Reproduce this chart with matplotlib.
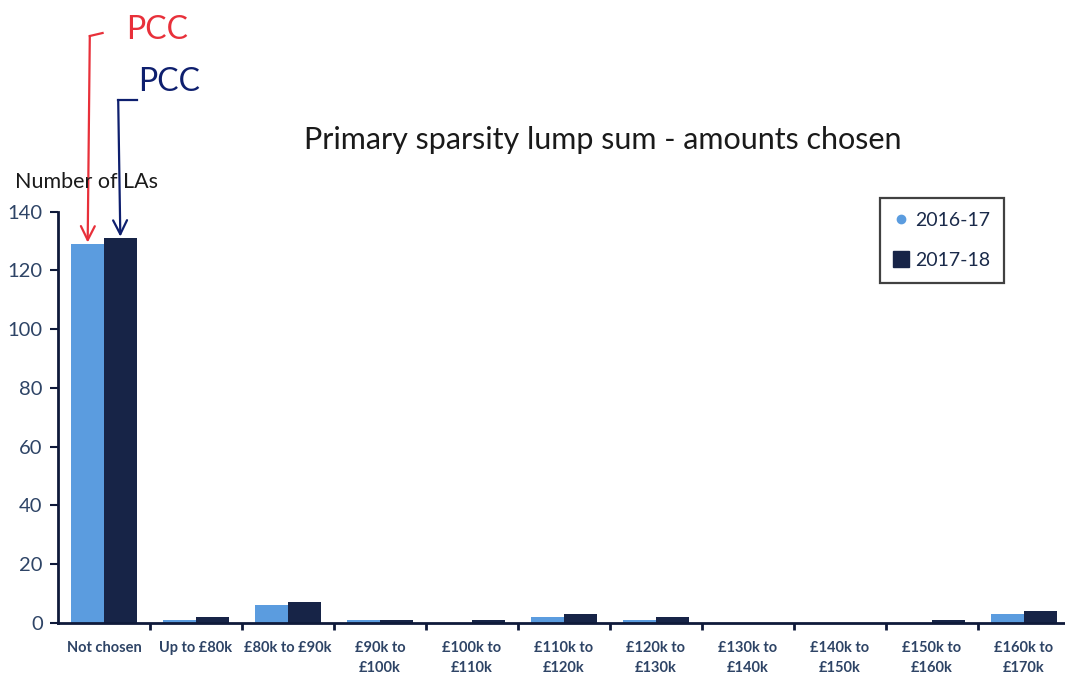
import matplotlib
matplotlib.use("Agg")
import matplotlib.pyplot as plt
import numpy as np
from matplotlib.lines import Line2D

categories = ["Not chosen", "Up to £80k", "£80k to £90k", "£90k to\n£100k", "£100k to\n£110k",
              "£110k to\n£120k", "£120k to\n£130k", "£130k to\n£140k", "£140k to\n£150k",
              "£150k to\n£160k", "£160k to\n£170k"]
series_names = ["2016-17", "2017-18"]
values_2016 = [129, 1, 6, 1, 0, 2, 1, 0, 0, 0, 3]
values_2017 = [131, 2, 7, 1, 1, 3, 2, 0, 0, 1, 4]
y_ticks = [0, 20, 40, 60, 80, 100, 120, 140]

light = "#5B9CDF"
dark = "#172447"
axis_col = "#0F1A3A"
label_col = "#2E4466"

plt.rcParams['font.family'] = ['Lato', 'DejaVu Sans']

fig = plt.figure(figsize=(10.65, 6.74), dpi=100)
W, H = 1065, 674
ax = fig.add_axes([58 / W, 51.3 / H, 1012 / W, 411 / H])

x = np.arange(len(categories))
bw = 0.355
b1 = ax.bar(x - bw / 2, values_2016, bw, color=light, label=series_names[0], zorder=2)
b2 = ax.bar(x + bw / 2, values_2017, bw, color=dark, label=series_names[1], zorder=2)

ax.set_xlim(-0.5, len(categories) - 0.5)
ax.set_ylim(0, 140)
ax.set_yticks(y_ticks)
ax.set_yticklabels([str(v) for v in y_ticks], fontsize=14.5, color=label_col)
ax.set_xticks(x)
ax.set_xticklabels(categories, fontsize=10.5, color=label_col, fontweight='bold', linespacing=1.6)
ax.set_xticks(np.arange(len(categories)) + 0.5, minor=True)
ax.tick_params(axis='x', which='major', length=0, pad=13)
ax.tick_params(axis='x', which='minor', length=5, width=2, color=axis_col, direction='out')
ax.tick_params(axis='y', length=6, width=1.5, color=axis_col, direction='out', pad=5)

for s in ['top', 'right']:
    ax.spines[s].set_visible(False)
for s in ['left', 'bottom']:
    ax.spines[s].set_color(axis_col)
    ax.spines[s].set_linewidth(2)

fig.text(603 / W, 1 - 140 / H, "Primary sparsity lump sum - amounts chosen", ha='center', va='center',
         fontsize=22, color='#1a1a1a')
fig.text(15 / W, 1 - 182 / H, "Number of LAs", ha='left', va='center', fontsize=15.5, color='#1a1a1a')

# legend
leg_handles = [
    Line2D([0], [0], marker='o', linestyle='none', markersize=6, markerfacecolor=light, markeredgecolor=light),
    Line2D([0], [0], marker='s', linestyle='none', markersize=11, markerfacecolor=dark, markeredgecolor=dark),
]
leg = fig.legend(leg_handles, series_names, loc='upper left', bbox_to_anchor=(880 / W, 1 - 198 / H),
                 frameon=True, fontsize=14, labelcolor='#1a2a4a', handlelength=0.8, handletextpad=0.3,
                 labelspacing=1.2, borderpad=0.7, fancybox=False, borderaxespad=0)
leg.get_frame().set_edgecolor('#111111')
leg.get_frame().set_linewidth(1.6)

# hand-written annotations
red = "#E8303A"
blue = "#0E1F6E"
tr = fig.transFigure
x_red = b1[0].get_x() + b1[0].get_width() / 2
x_blue = b2[0].get_x() + b2[0].get_width() / 2
px_red = ax.transData.transform((x_red, 0))[0] / W
px_blue = ax.transData.transform((x_blue, 0))[0] / W
fig.add_artist(Line2D([px_red + 0.002, px_red + 0.014], [1 - 36 / H, 1 - 33 / H], transform=tr, color=red, lw=1.6))
ax.annotate("", xy=(x_red, values_2016[0] + 0.5), xytext=(px_red + 0.002, 1 - 36 / H),
            textcoords='figure fraction', arrowprops=dict(arrowstyle='->', color=red, lw=1.6,
                                                          mutation_scale=25, shrinkA=0, shrinkB=0))
fig.text(126 / W, 1 - 30 / H, "PCC", color=red, fontsize=23, ha='left', va='center')
fig.add_artist(Line2D([px_blue - 0.002, px_blue + 0.016], [1 - 100 / H, 1 - 100 / H], transform=tr, color=blue, lw=1.6))
ax.annotate("", xy=(x_blue, values_2017[0] + 0.5), xytext=(px_blue - 0.002, 1 - 100 / H),
            textcoords='figure fraction', arrowprops=dict(arrowstyle='->', color=blue, lw=1.6,
                                                          mutation_scale=25, shrinkA=0, shrinkB=0))
fig.text(138 / W, 1 - 82 / H, "PCC", color=blue, fontsize=23, ha='left', va='center')

fig.savefig("out.png", dpi=100)
